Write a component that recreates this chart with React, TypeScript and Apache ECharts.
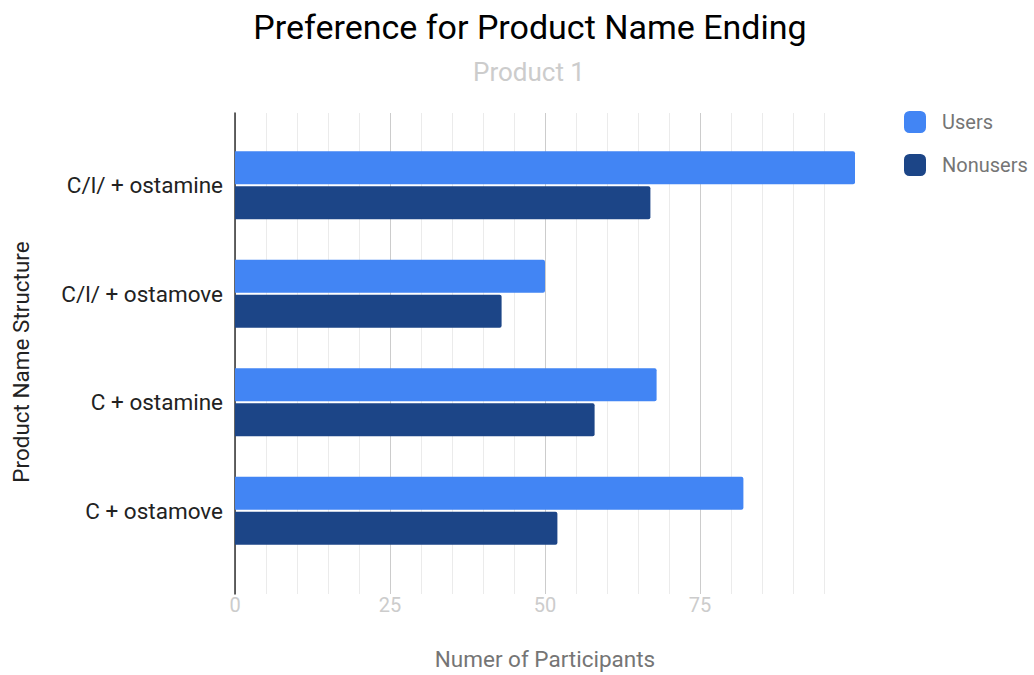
import React, { useEffect, useRef } from "react";
import * as echarts from "echarts";

const categories = ["C/l/ + ostamine", "C/l/ + ostamove", "C + ostamine", "C + ostamove"];
const usersValues = [100, 50, 68, 82];
const nonusersValues = [67, 43, 58, 52];
const seriesNames = ["Users", "Nonusers"];
const xTickLabels = ["0", "25", "50", "75"];

export default function App() {
  const ref = useRef<HTMLDivElement>(null);
  useEffect(() => {
    if (!ref.current) return;
    const chart = echarts.init(ref.current, undefined, { renderer: "svg" });
    const font = "Roboto";
    chart.setOption({
      animation: false,
      backgroundColor: "#ffffff",
      textStyle: { fontFamily: font },
      title: [
        {
          text: "Preference for Product Name Ending",
          left: 525,
          top: 5,
          textAlign: "center",
          textStyle: { fontFamily: font, fontSize: 34, fontWeight: "normal", color: "#000000" },
        },
        {
          text: "Product 1",
          left: 524,
          top: 54,
          textAlign: "center",
          textStyle: { fontFamily: font, fontSize: 26, fontWeight: "normal", color: "#cccccc" },
        },
      ],
      legend: {
        orient: "vertical",
        left: 904,
        top: 111,
        padding: 0,
        itemWidth: 22,
        itemHeight: 22,
        itemGap: 21,
        icon: "roundRect",
        textStyle: { fontFamily: font, fontSize: 20, color: "#757575", padding: [0, 0, 0, 11] },
        data: seriesNames,
      },
      graphic: [
        {
          type: "text",
          x: 21,
          y: 362,
          rotation: Math.PI / 2,
          style: {
            text: "Product Name Structure",
            fontFamily: font,
            fontSize: 22.5,
            fill: "#222222",
            align: "center",
            verticalAlign: "middle",
          },
        },
      ],
      grid: [
        { left: 235, right: 179, top: 131, height: 434, containLabel: false },
        { left: 235, right: 179, top: 113, height: 481, containLabel: false },
      ],
      xAxis: [
        { gridIndex: 0, type: "value", min: 0, max: 100, show: false },
        {
          gridIndex: 1,
          type: "value",
          min: 0,
          max: 100,
          interval: 25,
          axisLine: { show: false },
          axisTick: { show: false },
          axisLabel: {
            fontFamily: font,
            fontSize: 20,
            color: "#cccccc",
            margin: 1,
            showMaxLabel: false,
            formatter: (v: number) => (xTickLabels.includes(String(v)) ? String(v) : ""),
          },
          splitLine: { show: true, showMaxLine: false, lineStyle: { color: "#cccccc", width: 1 } },
          minorTick: { show: false, splitNumber: 5 },
          minorSplitLine: { show: true, lineStyle: { color: "#ebebeb", width: 1 } },
          name: "Numer of Participants",
          nameLocation: "middle",
          nameGap: 53,
          nameTextStyle: { fontFamily: font, fontSize: 22.5, color: "#757575" },
        },
      ],
      yAxis: [
        {
          gridIndex: 0,
          type: "category",
          data: categories,
          inverse: true,
          axisLine: { show: false },
          axisTick: { show: false },
          splitLine: { show: false },
          axisLabel: { fontFamily: font, fontSize: 22.5, color: "#222222", margin: 12 },
        },
        {
          gridIndex: 1,
          type: "value",
          min: 0,
          max: 1,
          axisLine: { show: true, onZero: false, lineStyle: { color: "#333333", width: 1.5 } },
          axisTick: { show: false },
          axisLabel: { show: false },
          splitLine: { show: false },
        },
      ],
      series: [
        {
          name: seriesNames[0],
          type: "bar",
          xAxisIndex: 0,
          yAxisIndex: 0,
          data: usersValues,
          barWidth: 33,
          barGap: "6%",
          itemStyle: { color: "#4285f4", borderRadius: [0, 2, 2, 0] },
          z: 3,
        },
        {
          name: seriesNames[1],
          type: "bar",
          xAxisIndex: 0,
          yAxisIndex: 0,
          data: nonusersValues,
          barWidth: 33,
          barGap: "6%",
          itemStyle: { color: "#1c4587", borderRadius: [0, 2, 2, 0] },
          z: 3,
        },
      ],
    });
    return () => chart.dispose();
  }, []);
  return <div ref={ref} style={{ position: "fixed", left: 0, top: 0, width: 1034, height: 675 }} />;
}
